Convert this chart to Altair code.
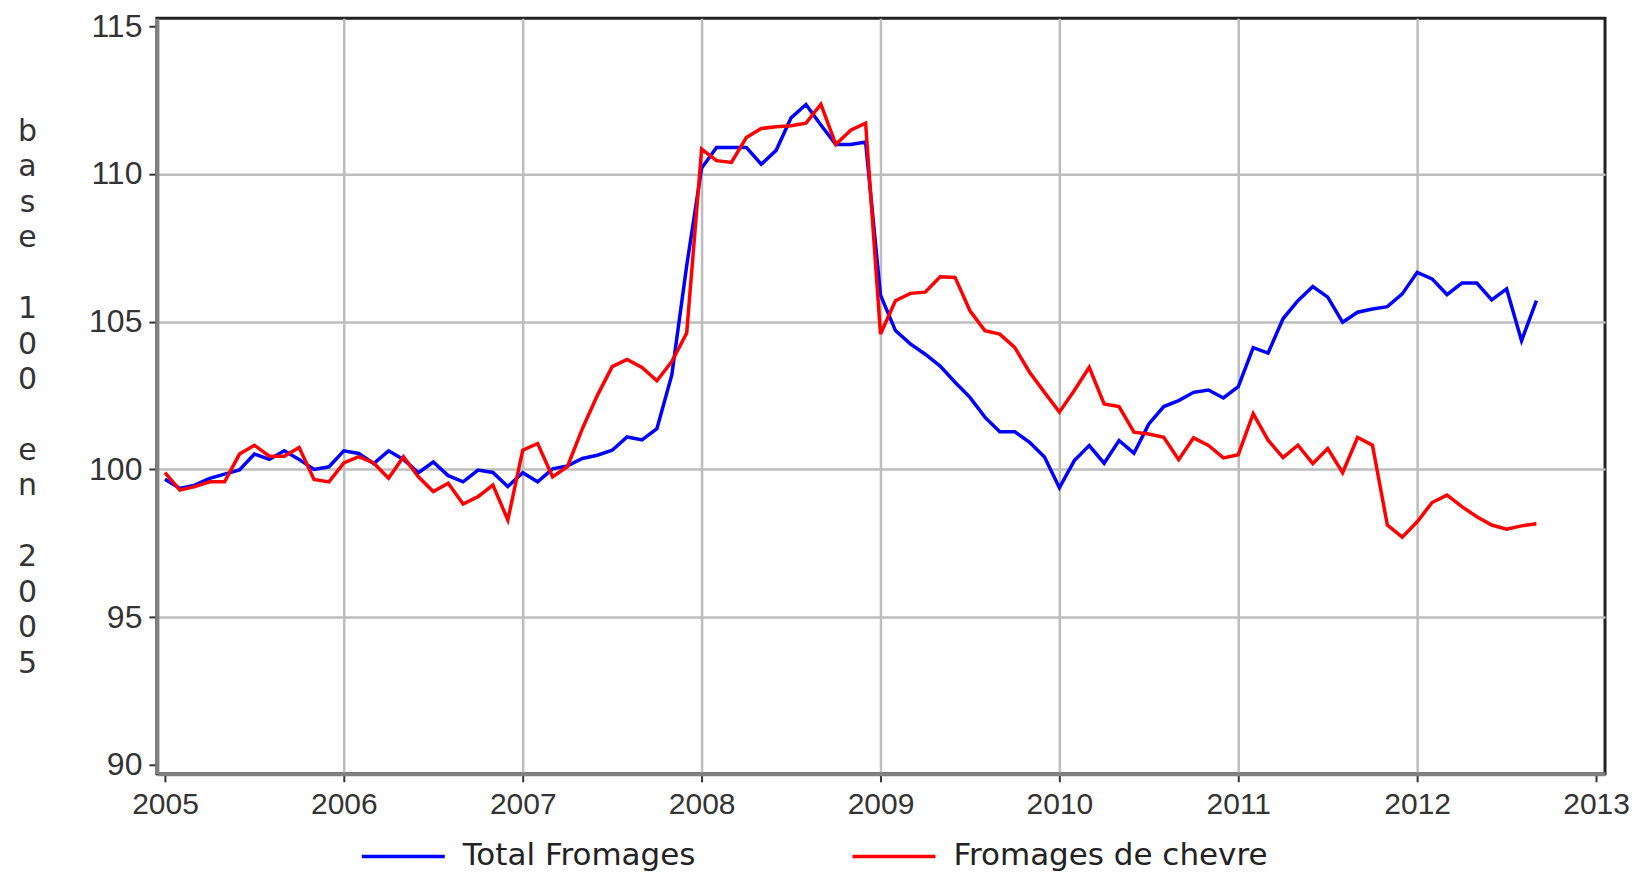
import altair as alt
import pandas as pd

# ---- data (monthly, Jan 2005 -> Sep 2012) ----
series_names = ["Total Fromages", "Fromages de chevre"]
series_colors = ["#0000FF", "#FF0000"]
start_year = 2005

total_fromages = [
    99.67, 99.36, 99.47, 99.70, 99.84, 99.98, 100.52, 100.34, 100.63, 100.34, 100.00, 100.09,
    100.63, 100.54, 100.20, 100.63, 100.34, 99.89, 100.25, 99.79, 99.58, 99.98, 99.90, 99.42,
    99.89, 99.58, 100.02, 100.12, 100.37, 100.48, 100.65, 101.10, 101.00, 101.38, 103.20, 106.90,
    110.20, 110.90, 110.90, 110.90, 110.33, 110.80, 111.90, 112.35, 111.66, 111.00, 111.00, 111.08,
    105.90, 104.70, 104.25, 103.90, 103.50, 102.95, 102.44, 101.77, 101.28, 101.28, 100.92, 100.42,
    99.38, 100.30, 100.81, 100.21, 100.98, 100.55, 101.54, 102.13, 102.33, 102.61, 102.69, 102.42,
    102.80, 104.12, 103.94, 105.10, 105.71, 106.19, 105.83, 104.98, 105.32, 105.43, 105.51, 105.94,
    106.67, 106.45, 105.92, 106.31, 106.31, 105.74, 106.11, 104.36, 105.71,
]

fromages_chevre = [
    99.89, 99.30, 99.42, 99.58, 99.58, 100.52, 100.82, 100.45, 100.45, 100.74, 99.66, 99.58,
    100.22, 100.43, 100.22, 99.70, 100.43, 99.75, 99.25, 99.53, 98.83, 99.08, 99.47, 98.29,
    100.65, 100.88, 99.75, 100.10, 101.38, 102.50, 103.48, 103.72, 103.45, 103.00, 103.65, 104.62,
    110.84, 110.45, 110.39, 111.23, 111.54, 111.60, 111.63, 111.72, 112.36, 111.00, 111.48, 111.72,
    104.58, 105.71, 105.96, 106.00, 106.52, 106.50, 105.37, 104.70, 104.58, 104.13, 103.29, 102.61,
    101.94, 102.67, 103.46, 102.22, 102.13, 101.26, 101.20, 101.09, 100.33, 101.07, 100.81, 100.39,
    100.50, 101.89, 100.99, 100.40, 100.82, 100.20, 100.71, 99.89, 101.08, 100.82, 98.12, 97.71,
    98.23, 98.88, 99.13, 98.74, 98.40, 98.12, 97.98, 98.09, 98.16,
]

x_ticks = [2005, 2006, 2007, 2008, 2009, 2010, 2011, 2012, 2013]
y_ticks = [90, 95, 100, 105, 110, 115]
BLANK = "\u2800"
y_title = ["b", "a", "s", "e", BLANK, "1", "0", "0", BLANK, "e", "n", BLANK, "2", "0", "0", "5"]

rows = []
for i, (t, c) in enumerate(zip(total_fromages, fromages_chevre)):
    tt = start_year + i / 12.0
    rows.append({"t": tt, "v": t, "serie": series_names[0]})
    rows.append({"t": tt, "v": c, "serie": series_names[1]})
df = pd.DataFrame(rows)

x_enc = alt.X(
    "t:Q",
    scale=alt.Scale(domain=[2004.955, 2013.05], nice=False, zero=False),
    axis=alt.Axis(
        values=x_ticks, format="d", title=None, grid=True,
        gridOpacity={"condition": {"test": "datum.value < 2005.5 || datum.value > 2012.5", "value": 0}, "value": 1},
        labelPadding=8, labelFlush=False, labelFontSize=30,
    ),
)
y_enc = alt.Y(
    "v:Q",
    scale=alt.Scale(domain=[89.7, 115.27], nice=False, zero=False),
    axis=alt.Axis(
        values=y_ticks, format="d", grid=True,
        gridOpacity={"condition": {"test": "datum.value < 92 || datum.value > 113", "value": 0}, "value": 1},
        labelPadding=7, labelFlush=False,
        title=y_title, titleAngle=0, titleAlign="center", titleBaseline="top",
        titleX=-130, titleY=98, titleLineHeight=35.5, titleFontSize=30, titleLimit=2000,
        titleFont="DejaVu Sans", titleFontWeight="normal", titleColor="#333333",
    ),
)
color_enc = alt.Color(
    "serie:N",
    scale=alt.Scale(domain=series_names, range=series_colors),
    legend=alt.Legend(
        orient="none", legendX=203, legendY=795, direction="horizontal", title=None,
        symbolType="stroke", symbolSize=6889, symbolStrokeWidth=3.5,
        labelFont="DejaVu Sans", labelFontSize=31, labelLimit=600, labelOffset=16,
        labelColor="#222222", columnPadding=150, padding=0,
    ),
)

base = alt.Chart(df)
line_total = base.transform_filter(alt.datum.serie == series_names[0]).mark_line(strokeWidth=3.5).encode(
    x=x_enc, y=y_enc, color=color_enc)
line_chevre = base.transform_filter(alt.datum.serie == series_names[1]).mark_line(strokeWidth=3.5).encode(
    x=x_enc, y=y_enc, color=color_enc)

chart = alt.layer(line_total, line_chevre).properties(
    width=1449, height=756,
    autosize=alt.AutoSizeParams(type="none"),
    padding={"left": 149, "top": 10, "right": 24, "bottom": 100},
).configure_view(
    stroke="#222222", strokeWidth=3
).configure_axis(
    domainColor="#808080", domainWidth=4,
    tickColor="#333333", tickWidth=2, tickSize=8,
    labelFont="Liberation Sans", labelFontSize=32, labelColor="#333333",
    gridColor="#BDBDBD", gridWidth=2.5,
)

chart.save("out.html", embed_options={"renderer": "svg", "actions": False})
